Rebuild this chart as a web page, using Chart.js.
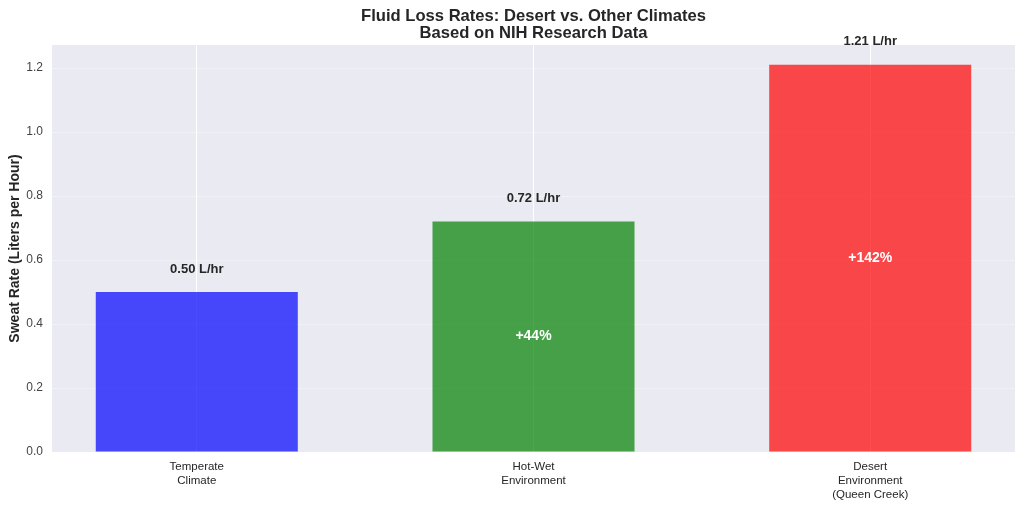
<!DOCTYPE html>
<html>
<head>
<meta charset="utf-8">
<script src="https://cdn.jsdelivr.net/npm/chart.js@4"></script>
<style>
  html, body { margin: 0; padding: 0; background: #fff; }
  #wrap { width: 1024px; height: 507px; }
</style>
</head>
<body>
<div id="wrap"><canvas id="chart"></canvas></div>
<script>
// data
const categories = [['Temperate', 'Climate'], ['Hot-Wet', 'Environment'], ['Desert', 'Environment', '(Queen Creek)']];
const positions = [0, 1, 2];
const sweatRates = [0.50, 0.72, 1.21];
const increaseLabels = ['', '+44%', '+142%'];
const barColors = ['rgba(0,0,255,0.7)', 'rgba(0,128,0,0.7)', 'rgba(255,0,0,0.7)'];
const yTicks = [0, 0.2, 0.4, 0.6, 0.8, 1.0, 1.2];
const titleLines = ['Fluid Loss Rates: Desert vs. Other Climates', 'Based on NIH Research Data'];

const FONT = "'Liberation Sans', Arial, sans-serif";
const TEXT = '#262626';
const TICK = '#444444';

// bar annotations: value on top, increase in the middle
const barLabels = {
    id: 'barLabels',
    afterDatasetsDraw(chart) {
        const ctx = chart.ctx;
        const meta = chart.getDatasetMeta(0);
        ctx.save();
        ctx.textAlign = 'center';
        ctx.textBaseline = 'middle';
        meta.data.forEach((bar, i) => {
            ctx.fillStyle = TEXT;
            ctx.font = 'bold 13px ' + FONT;
            ctx.fillText(sweatRates[i].toFixed(2) + ' L/hr', bar.x, bar.y - 23);
            if (increaseLabels[i]) {
                ctx.fillStyle = '#ffffff';
                ctx.font = 'bold 14px ' + FONT;
                ctx.fillText(increaseLabels[i], bar.x, (bar.y + bar.base) / 2);
            }
        });
        ctx.restore();
    }
};

// background of the plot area + title centred over the axes (like matplotlib)
const plotBg = {
    id: 'plotBg',
    beforeDraw(chart) {
        const a = chart.chartArea;
        const ctx = chart.ctx;
        ctx.save();
        ctx.fillStyle = '#EAEAF2';
        ctx.fillRect(a.left, a.top, a.right - a.left, a.bottom - a.top);
        ctx.fillStyle = TEXT;
        ctx.font = 'bold 16.6px ' + FONT;
        ctx.textAlign = 'center';
        ctx.textBaseline = 'middle';
        const cx = (a.left + a.right) / 2;
        titleLines.forEach((t, i) => ctx.fillText(t, cx, 16 + i * 17));
        ctx.restore();
    }
};

new Chart(document.getElementById('chart'), {
    type: 'bar',
    data: {
        datasets: [{
            data: positions.map((p, i) => ({ x: p, y: sweatRates[i] })),
            backgroundColor: barColors,
            borderWidth: 0,
            barPercentage: 0.6,
            categoryPercentage: 1.0
        }]
    },
    plugins: [plotBg, barLabels],
    options: {
        responsive: true,
        maintainAspectRatio: false,
        animation: false,
        layout: { padding: { left: 0, right: 9, top: 45, bottom: 0 } },
        plugins: {
            legend: { display: false },
            tooltip: { enabled: false },
            title: { display: false }
        },
        scales: {
            x: {
                type: 'linear',
                offset: false,
                min: -0.43,
                max: 2.43,
                afterBuildTicks(scale) { scale.ticks = positions.map(v => ({ value: v })); },
                afterFit(scale) { scale.height = 55; },
                grid: { color: '#ffffff', lineWidth: 1, drawTicks: false, offset: false },
                border: { display: false },
                ticks: {
                    color: TEXT,
                    padding: 8,
                    autoSkip: false,
                    maxRotation: 0,
                    font: { family: FONT, size: 11.5, lineHeight: 1.2 },
                    callback: (v) => categories[positions.indexOf(v)]
                }
            },
            y: {
                min: 0,
                max: 1.272,
                afterBuildTicks(scale) { scale.ticks = yTicks.map(v => ({ value: v })); },
                afterFit(scale) { scale.width = 52; },
                grid: { color: '#ffffff', lineWidth: 0.8, drawTicks: false },
                border: { display: false, dash: [1, 1.5] },
                ticks: {
                    color: TICK,
                    padding: 9,
                    font: { family: FONT, size: 12 },
                    callback: (v) => v.toFixed(1)
                },
                title: {
                    display: true,
                    text: 'Sweat Rate (Liters per Hour)',
                    color: TEXT,
                    font: { family: FONT, size: 14, weight: 'bold' },
                    padding: { top: 7, bottom: 0 }
                }
            }
        }
    }
});
</script>
</body>
</html>
